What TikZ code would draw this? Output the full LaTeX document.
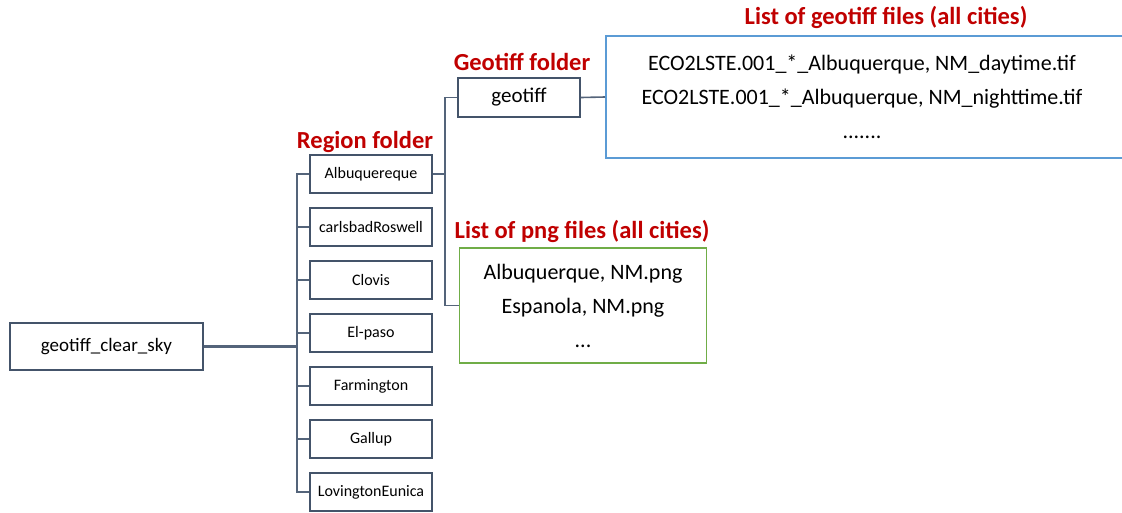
\documentclass[tikz,border=0pt]{standalone}
\usepackage{fontspec}
\setmainfont{Carlito}
\definecolor{boxc}{RGB}{68,84,106}
\definecolor{linec}{RGB}{84,100,122}
\definecolor{bluec}{RGB}{91,155,213}
\definecolor{greenc}{RGB}{112,173,71}
\definecolor{redc}{RGB}{192,0,0}
\tikzset{
  folder/.style={draw=boxc, line width=1.8pt, fill=white, inner sep=0pt, text=black},
  region/.style={folder, minimum width=122pt, minimum height=38pt, font=\fontsize{16}{18}\selectfont},
  conn/.style={draw=linec, line width=1.6pt},
  lbl/.style={text=redc, font=\bfseries\fontsize{24.5}{27}\selectfont, inner sep=0pt},
  listtext/.style={align=center, font=\fontsize{22}{34}\selectfont, inner sep=0pt}
}
\begin{document}
\begin{tikzpicture}[x=1pt, y=-1pt]
\useasboundingbox (0,0) rectangle (1122,512);
% root
\node[folder, minimum width=193pt, minimum height=47pt, font=\fontsize{19}{22}\selectfont] (root) at (106.5,346.5) {geotiff\_clear\_sky};
% regions
\node[region] (r1) at (371,174) {Albuquereque};
\node[region] (r2) at (371,227) {carlsbadRoswell};
\node[region] (r3) at (371,280) {Clovis};
\node[region] (r4) at (371,333) {El-paso};
\node[region] (r5) at (371,386) {Farmington};
\node[region] (r6) at (371,439) {Gallup};
\node[region] (r7) at (371,492) {LovingtonEunica};
\coordinate (tk) at (297,346.5);
\draw[conn] (r1.west) -| (tk) |- (r7.west);
\draw[conn] (r2.west) -| (tk);
\draw[conn] (r3.west) -| (tk);
\draw[conn] (r4.west) -| (tk);
\draw[conn] (r5.west) -| (tk);
\draw[conn] (r6.west) -| (tk);
\draw[conn, line width=2.5pt] (root.east) -- (tk);
% geotiff folder
\node[folder, minimum width=122pt, minimum height=39pt, font=\fontsize{21}{24}\selectfont] (gt) at (519,97.5) {geotiff};
% list of geotiff files box
\node[draw=bluec, line width=1.5pt, minimum width=540pt, minimum height=122pt, inner sep=0pt, anchor=west] (gl) at (605,97) {};
\node[listtext] (gltext) at (862,97) {ECO2LSTE.001\_*\_Albuquerque, NM\_daytime.tif\\ECO2LSTE.001\_*\_Albuquerque, NM\_nighttime.tif\\.......};
% list of png files box
\node[draw=greenc, line width=1.5pt, minimum width=247pt, minimum height=115pt, inner sep=0pt, listtext] (png) at (583,305.5) {Albuquerque, NM.png\\Espanola, NM.png\\...};
% connectors
\coordinate (j1) at (445,174);
\draw[conn] (r1.east) -- (j1) |- (gt.west);
\draw[conn] (j1) |- (png.west);
\draw[conn] (gt.east) -- (gl.west);
% labels
\node[lbl] (lregion) at (365,142) {Region folder};
\node[lbl] (lgeo) at (522,62) {Geotiff folder};
\node[lbl] (lglist) at (886,17) {List of geotiff files (all cities)};
\node[lbl] (lpng) at (582,231) {List of png files (all cities)};
\end{tikzpicture}
\end{document}
